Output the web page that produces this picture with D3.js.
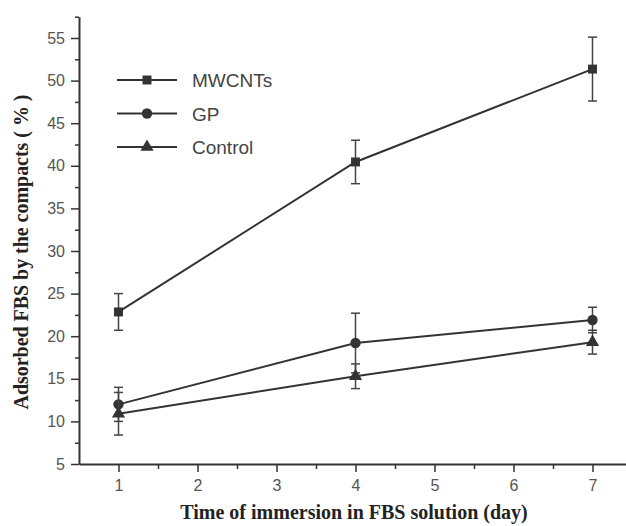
<!DOCTYPE html>
<html>
<head>
<meta charset="utf-8">
<script src="https://cdn.jsdelivr.net/npm/d3@7"></script>
<style>
  body { margin: 0; background: #fff; }
  svg { display: block; }
</style>
</head>
<body>
<div id="chart"></div>
<script>
// data
const days = [1, 4, 7];
const seriesNames = ["MWCNTs", "GP", "Control"];
const mwcntsMean = [22.85, 40.45, 51.35];
const mwcntsErr = [2.15, 2.55, 3.75];
const gpMean = [12.0, 19.2, 21.9];
const gpErr = [2.0, 3.5, 1.5];
const controlMean = [10.9, 15.3, 19.3];
const controlErr = [2.5, 1.45, 1.4];
const xTicks = [1, 2, 3, 4, 5, 6, 7];
const yTicks = [5, 10, 15, 20, 25, 30, 35, 40, 45, 50, 55];

const width = 626, height = 526;
const ink = "#333";

const svg = d3.select("#chart").append("svg")
    .attr("width", width)
    .attr("height", height);

const x = d3.scaleLinear().domain([0.5, 7.5]).range([79, 632]);
const y = d3.scaleLinear().domain([5, 57.5]).range([464, 16.7]);

// minor ticks first
svg.append("g")
    .attr("transform", "translate(79,0)")
    .call(d3.axisLeft(y).tickValues(d3.range(7.5, 58, 5)).tickSize(4).tickSizeOuter(0).tickFormat(""))
    .call(g => g.select(".domain").remove());
svg.append("g")
    .attr("transform", "translate(0,464)")
    .call(d3.axisBottom(x).tickValues(d3.range(1.5, 7.6, 1)).tickSize(5).tickSizeOuter(0).tickFormat(""))
    .call(g => g.select(".domain").remove());

const yAxis = svg.append("g")
    .attr("transform", "translate(79,0)")
    .call(d3.axisLeft(y).tickValues(yTicks).tickFormat(d3.format("d")).tickSize(8).tickSizeOuter(0).tickPadding(6));
const xAxis = svg.append("g")
    .attr("transform", "translate(0,464)")
    .call(d3.axisBottom(x).tickValues(xTicks).tickFormat(d3.format("d")).tickSize(8).tickSizeOuter(0).tickPadding(8));

svg.selectAll(".tick line").attr("stroke", ink).attr("stroke-width", 1.5);
svg.selectAll(".domain").attr("stroke", ink).attr("stroke-width", 2);
svg.selectAll(".tick text")
    .attr("fill", "#555")
    .style("font-family", "'Liberation Sans', Arial, sans-serif")
    .style("font-size", "16px");

// axis titles
svg.append("text")
    .attr("transform", "translate(28,252) rotate(-90)")
    .attr("text-anchor", "middle")
    .attr("fill", "#222")
    .style("font-family", "'Liberation Serif', 'Times New Roman', serif")
    .style("font-weight", "bold")
    .style("font-size", "20px")
    .attr("textLength", 315)
    .attr("lengthAdjust", "spacing")
    .text("Adsorbed FBS by the compacts ( % )");

svg.append("text")
    .attr("x", 354)
    .attr("y", 519)
    .attr("text-anchor", "middle")
    .attr("fill", "#222")
    .style("font-family", "'Liberation Serif', 'Times New Roman', serif")
    .style("font-weight", "bold")
    .style("font-size", "20px")
    .text("Time of immersion in FBS solution (day)");

const series = [
    { name: seriesNames[0], mean: mwcntsMean, err: mwcntsErr, symbol: d3.symbolSquare, size: 80 },
    { name: seriesNames[1], mean: gpMean, err: gpErr, symbol: d3.symbolCircle, size: 85 },
    { name: seriesNames[2], mean: controlMean, err: controlErr, symbol: d3.symbolTriangle, size: 75 }
];

const line = d3.line()
    .x(d => x(d.day))
    .y(d => y(d.v));

series.forEach(s => {
    const pts = days.map((d, i) => ({ day: d, v: s.mean[i], e: s.err[i] }));

    svg.append("path")
        .datum(pts)
        .attr("fill", "none")
        .attr("stroke", ink)
        .attr("stroke-width", 2)
        .attr("d", line);

    const eb = svg.append("g").selectAll("g")
        .data(pts)
        .join("g")
        .attr("stroke", "#444")
        .attr("stroke-width", 1.5);
    eb.append("line")
        .attr("x1", d => x(d.day)).attr("x2", d => x(d.day))
        .attr("y1", d => y(d.v + d.e)).attr("y2", d => y(d.v - d.e));
    eb.append("line")
        .attr("x1", d => x(d.day) - 4.5).attr("x2", d => x(d.day) + 4.5)
        .attr("y1", d => y(d.v + d.e)).attr("y2", d => y(d.v + d.e));
    eb.append("line")
        .attr("x1", d => x(d.day) - 4.5).attr("x2", d => x(d.day) + 4.5)
        .attr("y1", d => y(d.v - d.e)).attr("y2", d => y(d.v - d.e));

    svg.append("g").selectAll("path")
        .data(pts)
        .join("path")
        .attr("transform", d => `translate(${x(d.day)},${y(d.v)})`)
        .attr("d", d3.symbol().type(s.symbol).size(s.size))
        .attr("fill", ink);
});

// legend
const legend = svg.append("g");
series.forEach((s, i) => {
    const ly = 80 + i * 33.5;
    legend.append("line")
        .attr("x1", 117).attr("x2", 177)
        .attr("y1", ly).attr("y2", ly)
        .attr("stroke", ink)
        .attr("stroke-width", 2);
    legend.append("path")
        .attr("transform", `translate(147,${ly})`)
        .attr("d", d3.symbol().type(s.symbol).size(s.size))
        .attr("fill", ink);
    legend.append("text")
        .attr("x", 192)
        .attr("y", ly + 7)
        .attr("fill", "#444")
        .style("font-family", "'Liberation Sans', Arial, sans-serif")
        .style("font-size", "19px")
        .text(s.name);
});
</script>
</body>
</html>
